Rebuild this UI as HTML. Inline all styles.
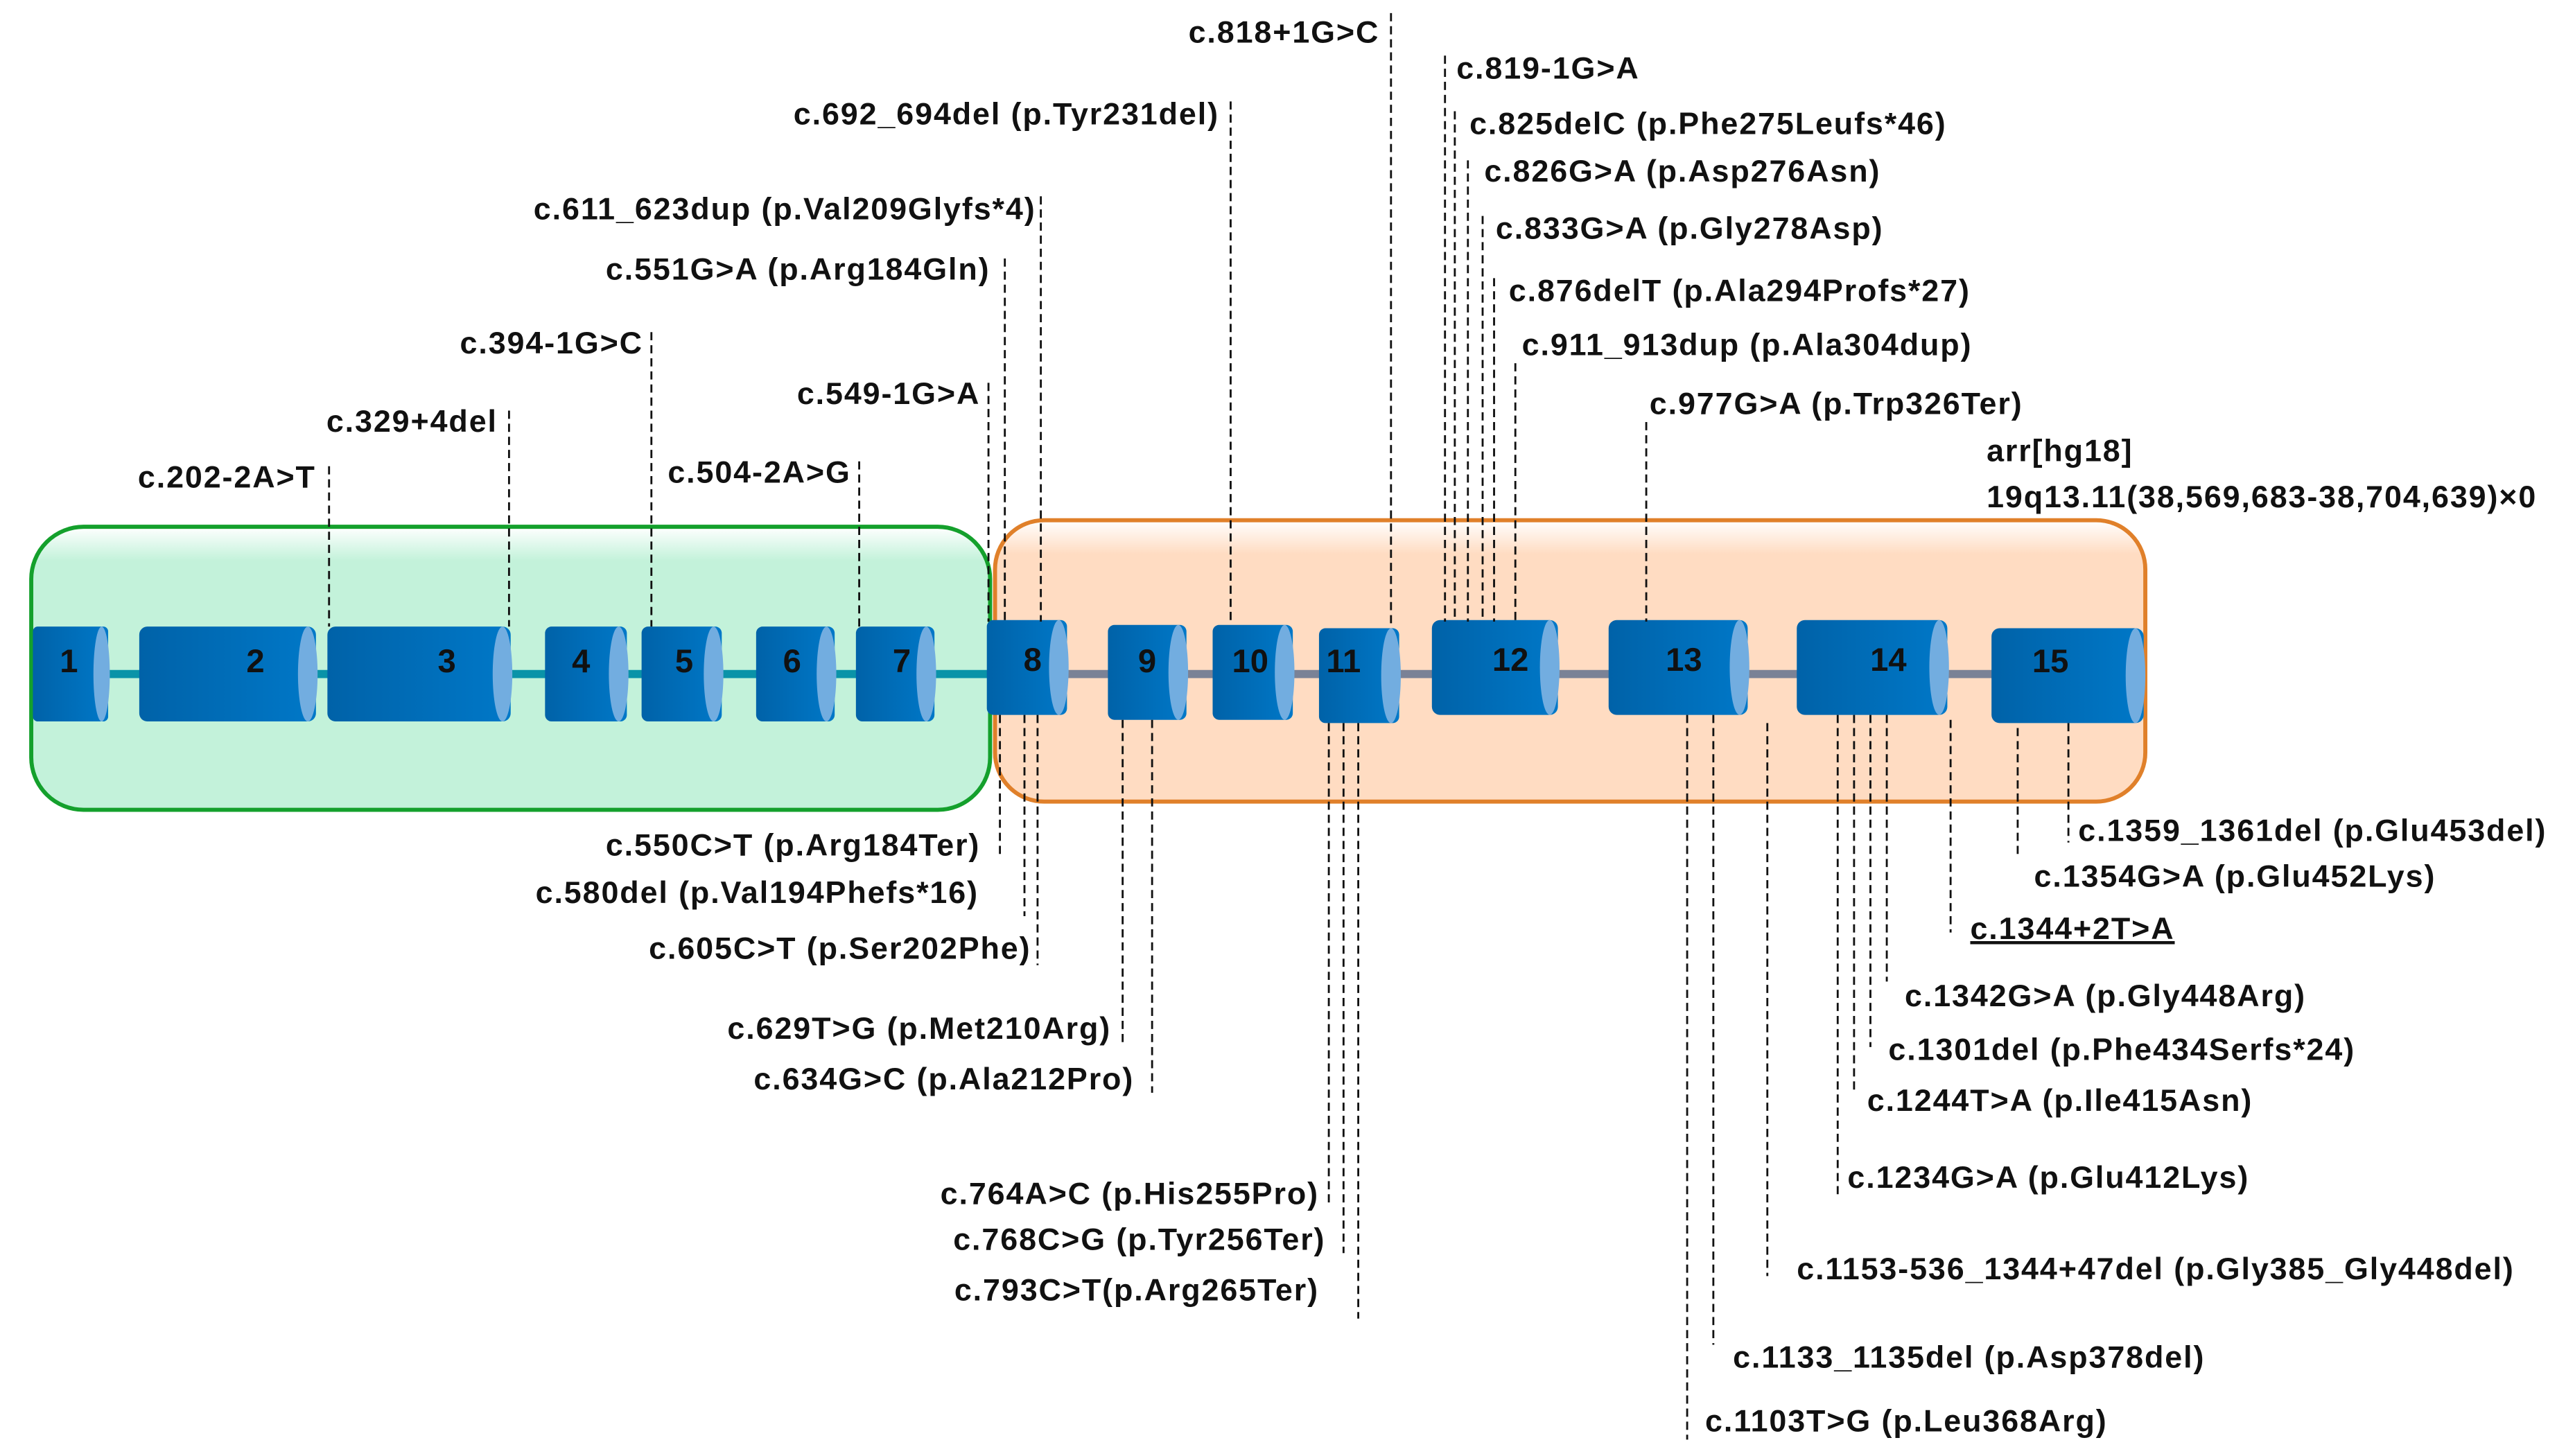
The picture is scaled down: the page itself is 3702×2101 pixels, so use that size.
<!DOCTYPE html>
<html><head><meta charset="utf-8"><style>
html,body{margin:0;padding:0;background:#fff;}
svg{display:block;}
text{font-family:"Liberation Sans",sans-serif;font-weight:bold;font-size:19px;letter-spacing:0.8px;fill:#111;}
.n{font-size:20px;letter-spacing:0;text-anchor:middle;}
.e{text-anchor:end;}
</style></head><body>
<svg width="3702" height="2101" viewBox="0 0 1568 890" xmlns="http://www.w3.org/2000/svg">
<defs>
<linearGradient id="gb" x1="0" y1="0" x2="0" y2="1">
<stop offset="0" stop-color="#ffffff"/><stop offset="0.12" stop-color="#c3f2da"/><stop offset="1" stop-color="#c3f2da"/></linearGradient>
<linearGradient id="ob" x1="0" y1="0" x2="0" y2="1">
<stop offset="0" stop-color="#ffffff"/><stop offset="0.12" stop-color="#ffdcc2"/><stop offset="1" stop-color="#ffdcc2"/></linearGradient>
<linearGradient id="ex" x1="0" y1="0" x2="1" y2="0">
<stop offset="0" stop-color="#0062a8"/><stop offset="1" stop-color="#0078c8"/></linearGradient>
</defs>
<rect x="19" y="322" width="586" height="173" rx="32" fill="url(#gb)" stroke="#14a02c" stroke-width="2.5"/>
<rect x="608" y="318" width="703" height="172" rx="30" fill="url(#ob)" stroke="#e0802a" stroke-width="2.5"/>
<line x1="20" y1="412" x2="605" y2="412" stroke="#0a93a8" stroke-width="5"/>
<line x1="605" y1="412" x2="1300" y2="412" stroke="#7a8296" stroke-width="5"/>
<g fill="url(#ex)">
<rect x="20" y="383" width="46" height="58" rx="3"/>
<rect x="85" y="383" width="108" height="58" rx="5"/>
<rect x="200" y="383" width="112" height="58" rx="5"/>
<rect x="333" y="383" width="50" height="58" rx="4"/>
<rect x="392" y="383" width="49" height="58" rx="4"/>
<rect x="462" y="383" width="48" height="58" rx="4"/>
<rect x="523" y="383" width="48" height="58" rx="4"/>
<rect x="603" y="379" width="49" height="58" rx="4"/>
<rect x="677" y="382" width="48" height="58" rx="4"/>
<rect x="741" y="382" width="49" height="58" rx="4"/>
<rect x="806" y="384" width="49" height="58" rx="4"/>
<rect x="875" y="379" width="77" height="58" rx="5"/>
<rect x="983" y="379" width="85" height="58" rx="5"/>
<rect x="1098" y="379" width="92" height="58" rx="5"/>
<rect x="1217" y="384" width="93" height="58" rx="5"/>
</g>
<g fill="#72ade0">
<ellipse cx="62" cy="412" rx="5" ry="29"/>
<ellipse cx="188" cy="412" rx="6" ry="29"/>
<ellipse cx="307" cy="412" rx="6" ry="29"/>
<ellipse cx="378" cy="412" rx="6" ry="29"/>
<ellipse cx="436" cy="412" rx="6" ry="29"/>
<ellipse cx="505" cy="412" rx="6" ry="29"/>
<ellipse cx="566" cy="412" rx="6" ry="29"/>
<ellipse cx="647" cy="408" rx="6" ry="29"/>
<ellipse cx="720" cy="411" rx="6" ry="29"/>
<ellipse cx="785" cy="411" rx="6" ry="29"/>
<ellipse cx="850" cy="413" rx="6" ry="29"/>
<ellipse cx="947" cy="408" rx="6" ry="29"/>
<ellipse cx="1063" cy="408" rx="6" ry="29"/>
<ellipse cx="1185" cy="408" rx="6" ry="29"/>
<ellipse cx="1305" cy="413" rx="6" ry="29"/>
</g>
<g>
<text class="n" x="42" y="411">1</text><text class="n" x="156" y="411">2</text><text class="n" x="273" y="411">3</text>
<text class="n" x="355" y="411">4</text><text class="n" x="418" y="411">5</text><text class="n" x="484" y="411">6</text>
<text class="n" x="551" y="411">7</text><text class="n" x="631" y="410">8</text><text class="n" x="701" y="411">9</text>
<text class="n" x="764" y="411">10</text><text class="n" x="821" y="411">11</text><text class="n" x="923" y="410">12</text>
<text class="n" x="1029" y="410">13</text><text class="n" x="1154" y="410">14</text><text class="n" x="1253" y="411">15</text>
</g>
<g stroke="#111" stroke-width="1.2" stroke-dasharray="5,3" fill="none">
<line x1="850" y1="8" x2="850" y2="382"/>
<line x1="883" y1="34" x2="883" y2="380"/>
<line x1="889" y1="68" x2="889" y2="380"/>
<line x1="897" y1="98" x2="897" y2="380"/>
<line x1="906" y1="132" x2="906" y2="380"/>
<line x1="913" y1="170" x2="913" y2="380"/>
<line x1="926" y1="222" x2="926" y2="380"/>
<line x1="1006" y1="258" x2="1006" y2="380"/>
<line x1="752" y1="62" x2="752" y2="382"/>
<line x1="636" y1="120" x2="636" y2="380"/>
<line x1="614" y1="158" x2="614" y2="380"/>
<line x1="398" y1="203" x2="398" y2="383"/>
<line x1="604" y1="234" x2="604" y2="380"/>
<line x1="311" y1="251" x2="311" y2="383"/>
<line x1="201" y1="285" x2="201" y2="383"/>
<line x1="525" y1="282" x2="525" y2="383"/>
<line x1="611" y1="437" x2="611" y2="525"/>
<line x1="626" y1="437" x2="626" y2="560"/>
<line x1="634" y1="437" x2="634" y2="590"/>
<line x1="686" y1="440" x2="686" y2="638"/>
<line x1="704" y1="440" x2="704" y2="668"/>
<line x1="812" y1="442" x2="812" y2="738"/>
<line x1="821" y1="442" x2="821" y2="766"/>
<line x1="830" y1="442" x2="830" y2="806"/>
<line x1="1264" y1="442" x2="1264" y2="515"/>
<line x1="1233" y1="445" x2="1233" y2="525"/>
<line x1="1192" y1="440" x2="1192" y2="570"/>
<line x1="1153" y1="437" x2="1153" y2="600"/>
<line x1="1143" y1="437" x2="1143" y2="640"/>
<line x1="1133" y1="437" x2="1133" y2="666"/>
<line x1="1123" y1="437" x2="1123" y2="730"/>
<line x1="1080" y1="442" x2="1080" y2="780"/>
<line x1="1047" y1="437" x2="1047" y2="822"/>
<line x1="1031" y1="437" x2="1031" y2="880"/>
</g>
<text class="e" x="843" y="26">c.818+1G&gt;C</text>
<text x="890" y="48">c.819-1G&gt;A</text>
<text x="898" y="82">c.825delC (p.Phe275Leufs*46)</text>
<text x="907" y="111">c.826G&gt;A (p.Asp276Asn)</text>
<text x="914" y="146">c.833G&gt;A (p.Gly278Asp)</text>
<text x="922" y="184">c.876delT (p.Ala294Profs*27)</text>
<text x="930" y="217">c.911_913dup (p.Ala304dup)</text>
<text x="1008" y="253">c.977G&gt;A (p.Trp326Ter)</text>
<text x="1214" y="282">arr[hg18]</text>
<text x="1214" y="310">19q13.11(38,569,683-38,704,639)×0</text>
<text class="e" x="745" y="76">c.692_694del (p.Tyr231del)</text>
<text class="e" x="633" y="134">c.611_623dup (p.Val209Glyfs*4)</text>
<text class="e" x="605" y="171">c.551G&gt;A (p.Arg184Gln)</text>
<text class="e" x="393" y="216">c.394-1G&gt;C</text>
<text class="e" x="599" y="247">c.549-1G&gt;A</text>
<text class="e" x="304" y="264">c.329+4del</text>
<text class="e" x="193" y="298">c.202-2A&gt;T</text>
<text class="e" x="520" y="295">c.504-2A&gt;G</text>
<text class="e" x="599" y="523">c.550C&gt;T (p.Arg184Ter)</text>
<text class="e" x="598" y="552">c.580del (p.Val194Phefs*16)</text>
<text class="e" x="630" y="586">c.605C&gt;T (p.Ser202Phe)</text>
<text class="e" x="679" y="635">c.629T&gt;G (p.Met210Arg)</text>
<text class="e" x="693" y="666">c.634G&gt;C (p.Ala212Pro)</text>
<text class="e" x="806" y="736">c.764A&gt;C (p.His255Pro)</text>
<text class="e" x="810" y="764">c.768C&gt;G (p.Tyr256Ter)</text>
<text class="e" x="806" y="795">c.793C&gt;T(p.Arg265Ter)</text>
<text x="1270" y="514">c.1359_1361del (p.Glu453del)</text>
<text x="1243" y="542">c.1354G&gt;A (p.Glu452Lys)</text>
<text x="1204" y="574" text-decoration="underline">c.1344+2T&gt;A</text>
<text x="1164" y="615">c.1342G&gt;A (p.Gly448Arg)</text>
<text x="1154" y="648">c.1301del (p.Phe434Serfs*24)</text>
<text x="1141" y="679">c.1244T&gt;A (p.Ile415Asn)</text>
<text x="1129" y="726">c.1234G&gt;A (p.Glu412Lys)</text>
<text x="1098" y="782">c.1153-536_1344+47del (p.Gly385_Gly448del)</text>
<text x="1059" y="836">c.1133_1135del (p.Asp378del)</text>
<text x="1042" y="875">c.1103T&gt;G (p.Leu368Arg)</text>
</svg>
</body></html>
